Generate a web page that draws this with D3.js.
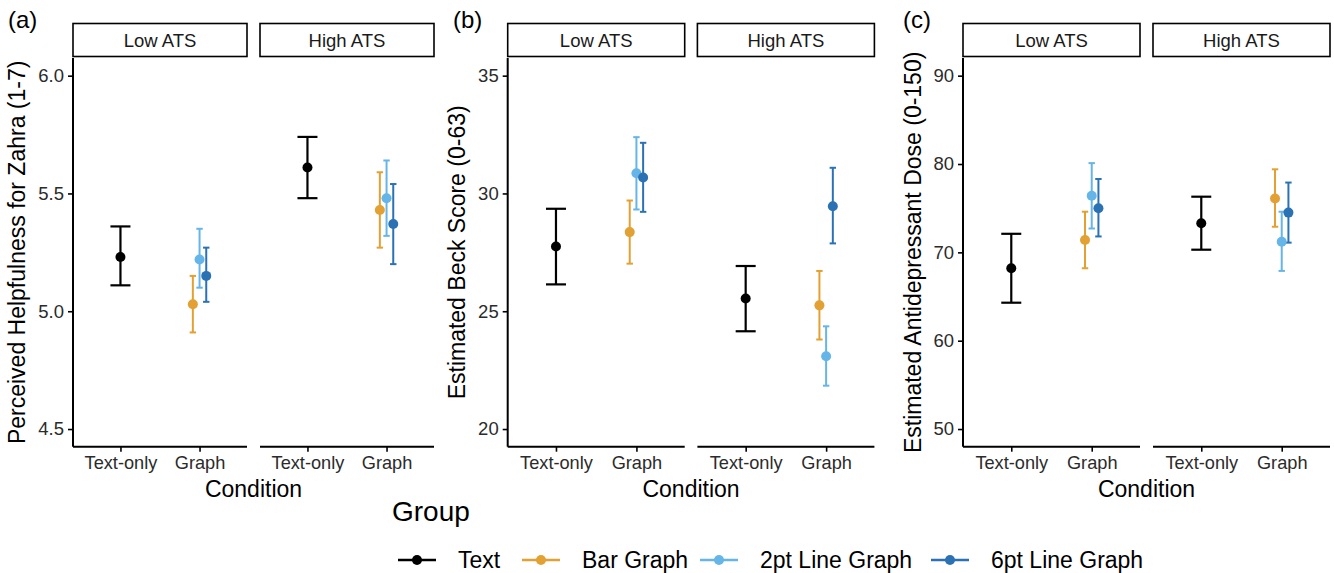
<!DOCTYPE html>
<html>
<head>
<meta charset="utf-8">
<script src="https://cdn.jsdelivr.net/npm/d3@7"></script>
<style>
  body { margin: 0; background: #fff; }
  svg { font-family: "Liberation Sans", Arial, sans-serif; }
</style>
</head>
<body>
<svg id="chart" width="1334" height="573"></svg>
<script>
// row order for every value array below
var atsRows   = ["Low ATS","Low ATS","Low ATS","Low ATS","High ATS","High ATS","High ATS","High ATS"];
var condRows  = ["Text-only","Graph","Graph","Graph","Text-only","Graph","Graph","Graph"];
var groupRows = ["Text","Bar Graph","2pt Line Graph","6pt Line Graph","Text","Bar Graph","2pt Line Graph","6pt Line Graph"];

var atsLevels = ["Low ATS","High ATS"];
var conditions = ["Text-only","Graph"];
var groups = ["Text","Bar Graph","2pt Line Graph","6pt Line Graph"];
var groupColors = ["#000000","#E3A033","#66B5E8","#2B72B5"];

// (a) perceived helpfulness
var helpMean = [5.23, 5.03, 5.22, 5.15, 5.61, 5.43, 5.48, 5.37];
var helpLo   = [5.11, 4.91, 5.10, 5.04, 5.48, 5.27, 5.32, 5.20];
var helpHi   = [5.36, 5.15, 5.35, 5.27, 5.74, 5.59, 5.64, 5.54];
var helpTicks = [4.5, 5.0, 5.5, 6.0];

// (b) estimated Beck score
var beckMean = [27.75, 28.36, 30.86, 30.68, 25.54, 25.25, 23.09, 29.46];
var beckLo   = [26.14, 27.02, 29.32, 29.22, 24.15, 23.80, 21.84, 27.88];
var beckHi   = [29.35, 29.70, 32.39, 32.15, 26.92, 26.71, 24.36, 31.09];
var beckTicks = [20, 25, 30, 35];

// (c) estimated antidepressant dose
var doseMean = [68.2, 71.4, 76.4, 75.0, 73.3, 76.1, 71.2, 74.5];
var doseLo   = [64.3, 68.2, 72.7, 71.8, 70.3, 72.9, 67.9, 71.1];
var doseHi   = [72.1, 74.6, 80.1, 78.3, 76.3, 79.4, 74.6, 77.9];
var doseTicks = [50, 60, 70, 80, 90];

var svg = d3.select("#chart");
var color = d3.scaleOrdinal().domain(groups).range(groupColors);

var plotTop = 58, plotBottom = 446.7;

function drawPanel(opt){
  var g = svg.append("g");
  var rows = d3.range(atsRows.length).map(function(i){
    return {ats: atsRows[i], cond: condRows[i], group: groupRows[i],
            m: opt.mean[i], lo: opt.lo[i], hi: opt.hi[i]};
  });
  var span = opt.dom[1] - opt.dom[0];
  var y = d3.scaleLinear()
      .domain([opt.dom[0] - span*0.05, opt.dom[1] + span*0.05])
      .range([plotBottom, plotTop]);
  var dodge = d3.scalePoint().domain(groups.slice(1)).range([-6.7, 6.7]);

  atsLevels.forEach(function(lev, k){
    var x0 = opt.left + k*(opt.w + opt.gap);
    var x = d3.scalePoint().domain(conditions).range([x0, x0 + opt.w]).padding(0.6);
    var fg = g.append("g");

    // strip
    fg.append("rect").attr("x", x0).attr("y", 23.5).attr("width", opt.w).attr("height", 33)
      .attr("fill", "#fff").attr("stroke", "#000").attr("stroke-width", 1.6);
    fg.append("text").attr("x", x0 + opt.w/2).attr("y", 46.5).attr("text-anchor","middle")
      .attr("font-size", 18.5).attr("fill", "#1a1a1a").text(lev);

    // x axis
    var xa = fg.append("g").attr("transform", "translate(0," + plotBottom + ")")
      .call(d3.axisBottom(x).tickSize(5).tickPadding(4));
    xa.select(".domain").attr("d", "M" + x0 + ",0H" + (x0 + opt.w)).attr("stroke-width", 2);
    xa.selectAll(".tick line").attr("stroke-width", 1.6);
    xa.selectAll("text").attr("font-size", 18.2).attr("fill", "#2b2b2b").attr("font-family", null);

    // y axis only on first facet
    if (k === 0){
      var ya = fg.append("g").attr("transform", "translate(" + x0 + ",0)")
        .call(d3.axisLeft(y).tickValues(opt.ticks).tickFormat(opt.fmt).tickSize(5).tickPadding(4));
      ya.select(".domain").attr("d", "M0," + plotTop + "V" + plotBottom).attr("stroke-width", 2);
      ya.selectAll(".tick line").attr("stroke-width", 1.6);
      ya.selectAll("text").attr("font-size", 18.5).attr("fill", "#2b2b2b").attr("font-family", null);
    }

    var sub = rows.filter(function(d){ return d.ats === lev; });
    function px(d){ return x(d.cond) + (d.group === "Text" ? 0 : dodge(d.group)); }
    function cap(d){ return d.group === "Text" ? 10 : 3.2; }

    var eb = fg.selectAll("g.eb").data(sub).enter().append("g").attr("class","eb")
      .attr("stroke", function(d){ return color(d.group); })
      .attr("stroke-width", function(d){ return d.group === "Text" ? 2.2 : 2; })
      .attr("fill", "none");
    eb.append("line").attr("x1", px).attr("x2", px)
      .attr("y1", function(d){ return y(d.lo); }).attr("y2", function(d){ return y(d.hi); });
    eb.append("line").attr("x1", function(d){ return px(d) - cap(d); })
      .attr("x2", function(d){ return px(d) + cap(d); })
      .attr("y1", function(d){ return y(d.hi); }).attr("y2", function(d){ return y(d.hi); });
    eb.append("line").attr("x1", function(d){ return px(d) - cap(d); })
      .attr("x2", function(d){ return px(d) + cap(d); })
      .attr("y1", function(d){ return y(d.lo); }).attr("y2", function(d){ return y(d.lo); });

    fg.selectAll("circle").data(sub).enter().append("circle")
      .attr("cx", px).attr("cy", function(d){ return y(d.m); })
      .attr("r", 5).attr("fill", function(d){ return color(d.group); });
  });

  // titles
  var mid = opt.left + opt.w + opt.gap/2;
  g.append("text").attr("x", mid).attr("y", 497).attr("text-anchor","middle")
    .attr("font-size", 23).attr("fill", "#000").text("Condition");
  g.append("text").attr("transform", "translate(" + opt.ylabX + "," + ((plotTop + plotBottom)/2) + ") rotate(-90)")
    .attr("text-anchor","middle").attr("font-size", 23).attr("fill", "#000").text(opt.ylab);
  g.append("text").attr("x", opt.tagX).attr("y", 28).attr("font-size", 24).attr("fill", "#000").text(opt.tag);
}

drawPanel({left: 73, w: 174, gap: 13, dom: [4.5, 6.0], ticks: helpTicks, fmt: d3.format(".1f"),
  mean: helpMean, lo: helpLo, hi: helpHi, ylab: "Perceived Helpfulness for Zahra (1-7)", ylabX: 25, tag: "(a)", tagX: 8});
drawPanel({left: 507.7, w: 177, gap: 12.7, dom: [20, 35], ticks: beckTicks, fmt: d3.format("d"),
  mean: beckMean, lo: beckLo, hi: beckHi, ylab: "Estimated Beck Score (0-63)", ylabX: 465, tag: "(b)", tagX: 453});
drawPanel({left: 963, w: 177, gap: 13, dom: [50, 90], ticks: doseTicks, fmt: d3.format("d"),
  mean: doseMean, lo: doseLo, hi: doseHi, ylab: "Estimated Antidepressant Dose (0-150)", ylabX: 921, tag: "(c)", tagX: 903});

// legend
svg.append("text").attr("x", 392).attr("y", 521).attr("font-size", 28).attr("fill", "#000").text("Group");
var legX = [398, 522, 700, 931];
var leg = svg.selectAll("g.leg").data(groups).enter().append("g").attr("class","leg")
  .attr("transform", function(d, i){ return "translate(" + legX[i] + ",560)"; });
leg.append("line").attr("x1", 0).attr("x2", 38).attr("stroke", function(d){ return color(d); }).attr("stroke-width", 2.6);
leg.append("circle").attr("cx", 19).attr("r", 5).attr("fill", function(d){ return color(d); });
leg.append("text").attr("x", 60).attr("y", 8).attr("font-size", 23).attr("fill", "#000").text(function(d){ return d; });
</script>
</body>
</html>
